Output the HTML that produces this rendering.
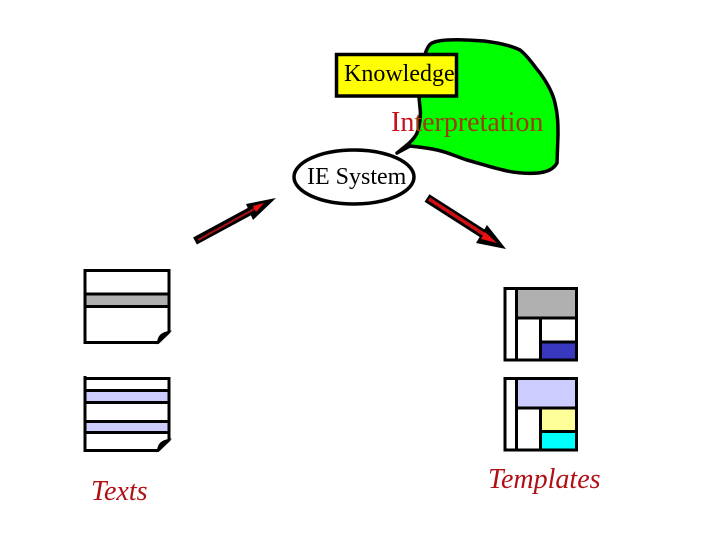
<!DOCTYPE html>
<html>
<head>
<meta charset="utf-8">
<style>
html,body{margin:0;padding:0;background:#fff}
svg{display:block}
text{font-family:"Liberation Serif",serif}
</style>
</head>
<body>
<svg width="720" height="540" viewBox="0 0 720 540" xmlns="http://www.w3.org/2000/svg">
<rect width="720" height="540" fill="#fff"/>

<!-- green blob -->
<path d="M419 97 C421 70 424 47 432 43 C442 38 470 40 484 41 C500 43 512 46 520 50 C528 56 534 66 540 73 C548 84 553 94 555 103 C558 115 558 125 558 135 L557 163 C553 170 546 172 538 173 C525 174 515 173 503 170 C490 167 478 163 467 160 C455 156 447 152 437 150 C428 148 418 147 410 146 L397 153 C406 146 414 140 417 133 C420 125 421 115 420 108 Z" fill="#00ff00" stroke="#000" stroke-width="3.5" stroke-linejoin="round"/>

<!-- knowledge box -->
<rect x="336.5" y="54.5" width="120" height="41.5" fill="#ffff00" stroke="#000" stroke-width="3.5"/>
<text x="344" y="81" font-size="24" fill="#000">Knowledge</text>

<text x="391" y="131" font-size="28" fill="#c81018">In<tspan fill="#9c3c0c">terpretation</tspan></text>

<!-- IE System -->
<ellipse cx="354" cy="177" rx="60" ry="27" fill="#fff" stroke="#000" stroke-width="3.5"/>
<text x="307" y="184" font-size="24" fill="#000">IE System</text>

<!-- left arrow -->
<line x1="195" y1="241" x2="256" y2="208" stroke="#000" stroke-width="8"/>
<polygon points="276,198 246,204 253,220" fill="#000"/>
<line x1="198" y1="240" x2="256" y2="208" stroke="#a81015" stroke-width="2"/>
<polygon points="264,203 253,206 256,212" fill="#ee1010"/>

<!-- right arrow -->
<line x1="427" y1="198" x2="488" y2="237" stroke="#000" stroke-width="9"/>
<polygon points="506,249 487,225 476,243" fill="#000"/>
<line x1="429" y1="199" x2="488" y2="237" stroke="#cc1015" stroke-width="3.5"/>
<polygon points="497,243 485,232 481,239" fill="#ee1010"/>

<!-- doc 1 -->
<g fill="none" stroke="#000" stroke-width="3">
<rect x="85" y="293.5" width="83.5" height="13" fill="#b0b0b0" stroke="none"/>
<path d="M85 269 V342.5 H158 L169 332 V270.5 H85"/>
<path d="M85 294 H169 M85 306.5 H169"/>
</g>
<path d="M158 342 C159 336 162 333 169 332 Z" fill="#000" stroke="#000" stroke-width="2"/>

<!-- doc 2 -->
<g fill="none" stroke="#000" stroke-width="3">
<rect x="85" y="391" width="83.5" height="12" fill="#ccccff" stroke="none"/>
<rect x="85" y="421" width="83.5" height="12" fill="#ccccff" stroke="none"/>
<path d="M85 376 V450.5 H158 L169 440 V378.5 H85"/>
<path d="M85 390.5 H169 M85 402.5 H169 M85 421.5 H169 M85 432.5 H169"/>
</g>
<path d="M158 450 C159 444 162 441 169 440 Z" fill="#000" stroke="#000" stroke-width="2"/>

<text x="91" y="500" font-size="28" font-style="italic" fill="#b01015">Texts</text>

<!-- template 1 -->
<rect x="517" y="289" width="59" height="29" fill="#b0b0b0"/>
<rect x="540" y="343" width="36" height="17" fill="#3838c0"/>
<g fill="none" stroke="#000" stroke-width="3">
<rect x="505" y="288.5" width="71.5" height="71.5"/>
<path d="M516.5 288 V360 M516.5 318 H577 M540.5 318 V360 M540.5 342 H577"/>
</g>

<!-- template 2 -->
<rect x="517" y="379" width="59" height="29" fill="#ccccff"/>
<rect x="540" y="409" width="36" height="22" fill="#ffff99"/>
<rect x="540" y="433" width="36" height="17" fill="#00ffff"/>
<g fill="none" stroke="#000" stroke-width="3">
<rect x="505" y="378.5" width="71.5" height="71.5"/>
<path d="M516.5 378 V450 M516.5 408 H577 M540.5 408 V450 M540.5 431.5 H577"/>
</g>

<text x="488" y="488" font-size="28" font-style="italic" fill="#b01015">Templates</text>
</svg>
</body>
</html>
